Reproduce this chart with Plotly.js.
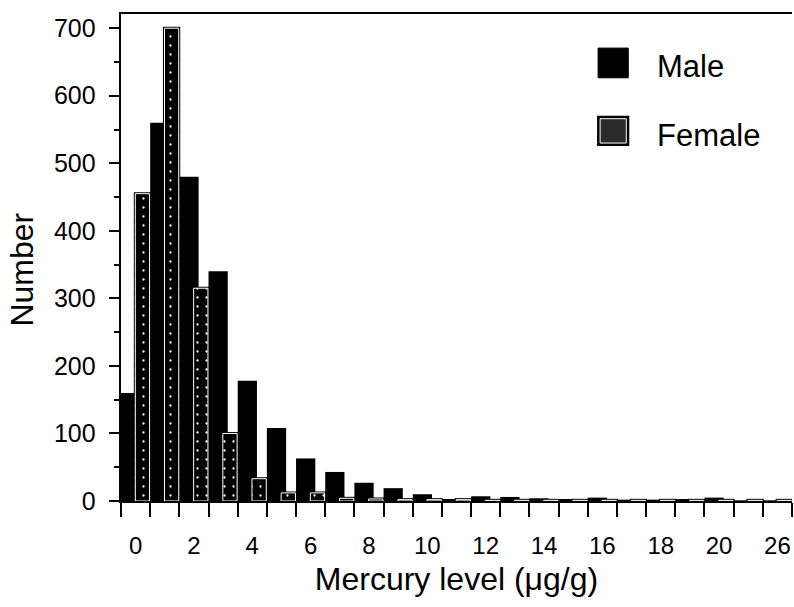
<!DOCTYPE html>
<html><head><meta charset="utf-8">
<script src="https://cdn.plot.ly/plotly-3.0.1.min.js"></script>
<style>html,body{margin:0;padding:0;background:#fff}#chart{width:794px;height:607px}</style>
</head><body><div id="chart"></div>
<script>
// Bin index (1 µg/g wide bins) and counts
const bins = [0,1,2,3,4,5,6,7,8,9,10,11,12,13,14,15,16,17,18,19,20,21,22];
const male = [160,560,480,340,178,108,63,43,27,19,10,3,7,6,4,3,5,2,2,3,5,1,1];
const female = [455,700,315,100,33,12,12,4,3,2,2,2,1,1,1,1,1,1,1,1,1,1,1];
const tickBins = [0,2,4,6,8,10,12,14,16,18,20,22];
const tickLabels = ['0','2','4','6','8','10','12','14','16','18','20','26'];
const seriesNames = ['Male','Female'];

const binEdges = bins.map(b => b - 0.5).concat([bins[bins.length-1] + 0.5]);
const FONT = 'Liberation Sans, Arial, Helvetica, sans-serif';

const traces = [
  {type:'bar', name:seriesNames[0], x:bins, y:male, offset:-0.5, width:0.66,
   marker:{color:'#000', line:{width:0}}, showlegend:false, hoverinfo:'x+y'},
  {type:'bar', name:seriesNames[1], x:bins, y:female, offset:-0.01, width:0.49,
   marker:{color:'#000', line:{color:'#000', width:3}}, showlegend:false, hoverinfo:'skip'},
  {type:'bar', name:seriesNames[1], x:bins, y:female, offset:-0.01, width:0.49,
   marker:{color:'#000', pattern:{shape:'.', fgcolor:'#fff', bgcolor:'#000', size:9, solidity:0.05},
           line:{color:'#fff', width:1}}, showlegend:false, hoverinfo:'x+y'}
];

const layout = {
  width:794, height:607,
  margin:{l:121, r:2, t:14, b:106},
  paper_bgcolor:'#fff', plot_bgcolor:'#fff',
  font:{family:FONT, color:'#000', size:25},
  barmode:'overlay',
  showlegend:false,
  xaxis:{
    range:[-0.5, 22.5], showgrid:false, zeroline:false,
    showline:true, linecolor:'#000', linewidth:2, mirror:true,
    tickmode:'array', tickvals:tickBins, ticktext:tickLabels,
    ticks:'outside', ticklen:22, tickcolor:'rgba(0,0,0,0)',
    tickfont:{size:24},
    minor:{tickmode:'array', tickvals:binEdges, ticks:'outside', ticklen:14, tickwidth:2, tickcolor:'#000', showgrid:false},
    title:{text:'Mercury level (μg/g)', font:{size:32}, standoff:10}
  },
  yaxis:{
    range:[0, 721], showgrid:false, zeroline:false,
    showline:true, linecolor:'#000', linewidth:2,
    tickmode:'linear', tick0:0, dtick:100,
    ticks:'outside', ticklen:10, tickwidth:2, tickcolor:'#000',
    ticksuffix:'\u2004',
    tickfont:{size:25},
    minor:{dtick:50, ticks:'outside', ticklen:5, tickwidth:2, tickcolor:'#000', showgrid:false},
    title:{text:''}
  },
  shapes:[
    {type:'rect', xref:'paper', yref:'paper', x0:0.711, x1:0.756, y0:0.869, y1:0.930,
     fillcolor:'#000', line:{color:'#000', width:1}},
    {type:'rect', xref:'paper', yref:'paper', x0:0.711, x1:0.756, y0:0.731, y1:0.789,
     fillcolor:'#000', line:{color:'#000', width:2}},
    {type:'rect', xref:'paper', yref:'paper', x0:0.714, x1:0.753, y0:0.735, y1:0.785,
     fillcolor:'#2a2a2a', line:{color:'#fff', width:1}}
  ],
  annotations:[
    {xref:'paper', yref:'paper', x:-0.147, y:0.476, xanchor:'center', yanchor:'middle',
     text:'Number', textangle:-90, showarrow:false, font:{size:32}},
    {xref:'paper', yref:'paper', x:0.796, y:0.893, xanchor:'left', yanchor:'middle',
     text:seriesNames[0], showarrow:false, font:{size:31}},
    {xref:'paper', yref:'paper', x:0.796, y:0.751, xanchor:'left', yanchor:'middle',
     text:seriesNames[1], showarrow:false, font:{size:31}}
  ]
};

Plotly.newPlot('chart', traces, layout, {displayModeBar:false, staticPlot:true});
</script>
</body></html>
